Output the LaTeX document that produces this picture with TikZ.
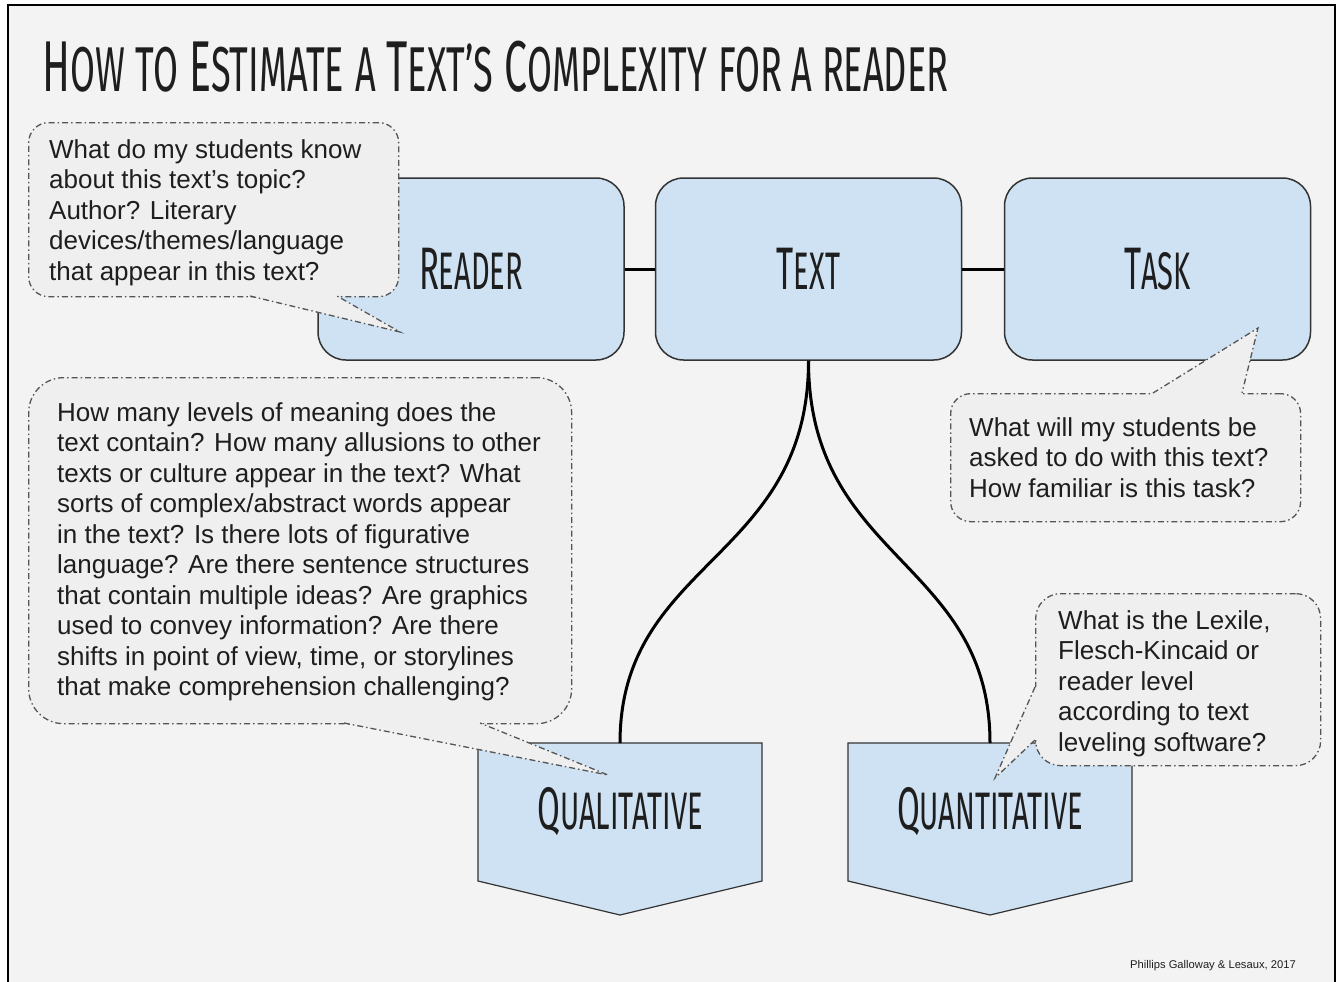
\documentclass[tikz,border=0pt]{standalone}
\usepackage{fontspec}
\usepackage{tikz}

\newfontfamily\bodyfont{Liberation Sans}
\newfontfamily\titlefont[FakeStretch=0.57]{Fira Sans}
\newfontfamily\handfont[FakeStretch=0.55]{Fira Sans}

\definecolor{paper}{HTML}{F3F3F3}
\definecolor{boxblue}{HTML}{CFE2F3}
\definecolor{boxline}{HTML}{333333}
\definecolor{notefill}{HTML}{EFEFEF}
\definecolor{noteline}{HTML}{555555}
\definecolor{ink}{HTML}{1E1E1E}

% lower case letters of the hand font as slightly smaller capitals
\makeatletter
\newcommand\lc[1]{{\fontsize{\strip@pt\dimexpr0.88\dimexpr\f@size pt\relax\relax}{0}\selectfont\MakeUppercase{#1}}}
\makeatother

\begin{document}
\begin{tikzpicture}[x=1pt, y=-1pt,
		part/.style={draw=boxline, fill=boxblue, line width=1.5pt, rounded corners=28pt,
			minimum width=306pt, minimum height=182pt, text=ink,
			font=\handfont\fontsize{60}{60}\selectfont},
		kind/.style={draw=boxline, fill=boxblue, line width=1.2pt},
		kindlabel/.style={text=ink, font=\handfont\fontsize{60}{60}\selectfont},
		bubble/.style={draw=noteline, fill=notefill, line width=1.3pt,
			dash pattern=on 6pt off 3pt on 1.5pt off 3pt},
		tail/.style={draw=noteline, line width=1.3pt,
			dash pattern=on 6pt off 3pt on 1.5pt off 3pt},
		note/.style={font=\bodyfont\fontsize{26}{30.5}\selectfont, align=left,
			inner sep=0pt, text=ink},
		link/.style={line width=3pt}]
	\useasboundingbox (0,0) rectangle (1341,982);
	\fill[white] (0,0) rectangle (1341,982);
	\fill[paper] (8,5) rectangle (1335,985);
	\draw[line width=2pt] (8,5) rectangle (1335,985);

	% title
	\node[anchor=base west, inner sep=0pt, text=ink, font=\titlefont\fontsize{72}{72}\selectfont] (title) at (42,92)
		{H\lc{ow} \lc{to} E\lc{stimate} \lc{a} T\lc{ext’s} C\lc{omplexity} \lc{for a reader}};

	% reader - text - task
	\node[part] (reader) at (471,269) {R\lc{eader}};
	\node[part] (text) at (808.5,269) {T\lc{ext}};
	\node[part] (task) at (1157.5,269) {T\lc{ask}};
	\draw[link] (reader) -- (text);
	\draw[link] (text) -- (task);

	% the two kinds of measures
	\draw[kind] (478,743) -- (762,743) -- (762,881) -- (620,915) -- (478,881) -- cycle;
	\draw[kind] (848,743) -- (1132,743) -- (1132,881) -- (990,915) -- (848,881) -- cycle;
	\node[kindlabel] (qual) at (620,812) {Q\lc{ualitative}};
	\node[kindlabel] (quant) at (990,812) {Q\lc{uantitative}};
	\coordinate (qualtop) at (620,743);
	\coordinate (quanttop) at (990,743);
	\draw[link] (text.south) .. controls +(0,200) and +(0,-183) .. (qualtop);
	\draw[link] (text.south) .. controls +(0,200) and +(0,-183) .. (quanttop);

	% speech bubbles
	\node[bubble, rounded corners=20pt, minimum width=370pt, minimum height=174pt, anchor=north west] (askreader) at (28,122) {};
	\coordinate (readertip) at (400,332);
	\fill[notefill] (250,290) -- (250,296) -- (readertip) -- (337,296) -- (337,290) -- cycle;
	\draw[tail] (250,296) -- (readertip) -- (337,296);
	\node[note, anchor=west] (readernote) at ([xshift=21pt,yshift=-3pt]askreader.west)
		{What do my students know\\about this text’s topic?\\Author? Literary\\devices/themes/language\\that appear in this text?};

	\node[bubble, rounded corners=20pt, minimum width=350pt, minimum height=128pt, anchor=north west] (asktask) at (950,393) {};
	\coordinate (tasktip) at (1258,328);
	\fill[notefill] (1153,399) -- (1153,393) -- (tasktip) -- (1242,393) -- (1242,399) -- cycle;
	\draw[tail] (1153,393) -- (tasktip) -- (1242,393);
	\node[note, anchor=west] (tasknote) at ([xshift=19pt]asktask.west)
		{What will my students be\\asked to do with this text?\\How familiar is this task?};

	\node[bubble, rounded corners=35pt, minimum width=543pt, minimum height=346pt, anchor=north west] (askqual) at (28,377) {};
	\coordinate (qualtip) at (608,775);
	\fill[notefill] (344,717) -- (344,723) -- (qualtip) -- (480,723) -- (480,717) -- cycle;
	\draw[tail] (344,723) -- (qualtip) -- (480,723);
	\node[note, anchor=west] (qualnote) at ([xshift=29pt,yshift=-1pt]askqual.west)
		{How many levels of meaning does the\\text contain? How many allusions to other\\texts or culture appear in the text? What\\sorts of complex/abstract words appear\\in the text? Is there lots of figurative\\language? Are there sentence structures\\that contain multiple ideas? Are graphics\\used to convey information? Are there\\shifts in point of view, time, or storylines\\that make comprehension challenging?};

	\node[bubble, rounded corners=25pt, minimum width=285pt, minimum height=172pt, anchor=north west] (askquant) at (1035,593) {};
	\coordinate (quanttip) at (995,778);
	\fill[notefill] (1041,687) -- (1035,687) -- (quanttip) -- (1035,740) -- (1041,740) -- cycle;
	\draw[tail] (1035,687) -- (quanttip) -- (1035,740);
	\node[note, anchor=west] (quantnote) at ([xshift=23pt,yshift=-4pt]askquant.west)
		{What is the Lexile,\\Flesch-Kincaid or\\reader level\\according to text\\leveling software?};

	\node[anchor=east, inner sep=0pt, text=ink, font=\bodyfont\fontsize{11.2}{13}\selectfont] (credit) at (1296,966)
		{Phillips Galloway \& Lesaux, 2017};
\end{tikzpicture}
\end{document}
